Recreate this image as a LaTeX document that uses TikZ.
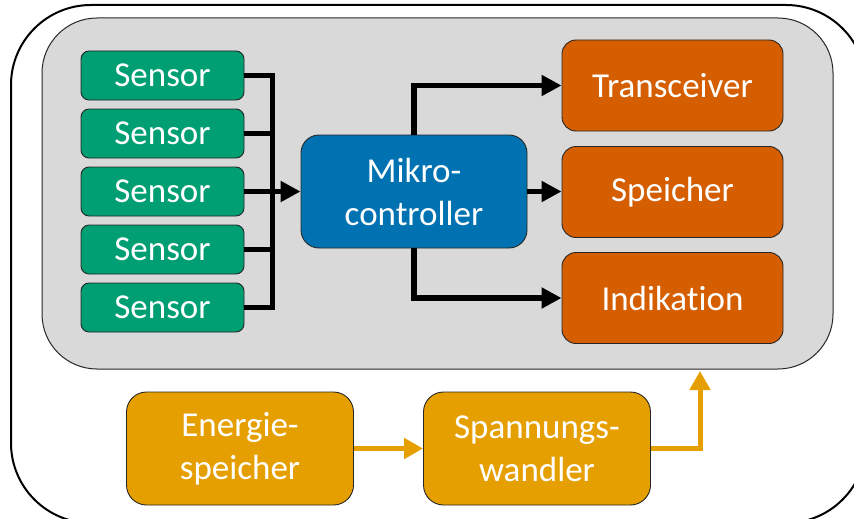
\documentclass[tikz,border=0pt]{standalone}
\usepackage{fontspec}
\setmainfont{Carlito}[Ligatures={NoCommon,NoRare}]
\usetikzlibrary{arrows.meta}
\definecolor{cgreen}{HTML}{009E73}
\definecolor{cblue}{HTML}{0072B2}
\definecolor{cverm}{HTML}{D55E00}
\definecolor{camber}{HTML}{E69F00}
\definecolor{cgray}{HTML}{D9D9D9}
\tikzset{
  box/.style={draw=black!85, line width=0.9pt, text=white, align=center,
    font=\fontsize{35}{43}\selectfont, inner sep=0pt},
  sensorbox/.style={box, fill=cgreen, minimum width=163pt, minimum height=49pt, rounded corners=8pt},
  mcbox/.style={box, fill=cblue, minimum width=226pt, minimum height=113pt, rounded corners=18pt},
  outbox/.style={box, fill=cverm, minimum width=221pt, minimum height=91pt, rounded corners=14pt},
  powbox/.style={box, fill=camber, minimum width=227pt, minimum height=113pt, rounded corners=20pt},
  bus/.style={line width=5.5pt, draw=black},
  busarrow/.style={bus, -{Triangle[length=20pt,width=20pt]}},
  powline/.style={line width=5pt, draw=camber, -{Triangle[length=19pt,width=20pt]}},
}
\begin{document}
\begin{tikzpicture}[x=1pt,y=-1pt]
\useasboundingbox (0,0) rectangle (854,519);
\clip (0,0) rectangle (854,519);
% outer frame
\draw[line width=2pt, rounded corners=80pt] (11,5) rectangle (866,523);
% grey panel
\draw[fill=cgray, line width=1pt, draw=black!85, rounded corners=55pt] (42,18) rectangle (833,369);
% sensors
\node[sensorbox] (s1) at (162.5,75.5) {Sensor};
\node[sensorbox] (s2) at (162.5,133.5) {Sensor};
\node[sensorbox] (s3) at (162.5,191.5) {Sensor};
\node[sensorbox] (s4) at (162.5,249.5) {Sensor};
\node[sensorbox] (s5) at (162.5,307.5) {Sensor};
% microcontroller
\node[mcbox] (mc) at (414,191.5) {Mikro-\\controller};
% outputs
\node[outbox] (tr) at (672.5,85.5) {Transceiver};
\node[outbox] (sp) at (672.5,192) {Speicher};
\node[outbox] (ind) at (672.5,298) {Indikation};
% power
\node[powbox] (en) at (240,448.5) {Energie-\\speicher};
\node[powbox] (sw) at (537,448.5) {Spannungs-\\wandler};
% bus
\coordinate (bx) at (272.5,0);
\draw[bus] (s1.east) -| (bx |- s5.east) -- (s5.east);
\draw[bus] (s2.east) -- (bx |- s2.east);
\draw[bus] (s4.east) -- (bx |- s4.east);
\draw[bus] (s3.east) -- (bx |- s3.east);
\draw[busarrow] (bx |- s3.east) -- (mc.west);
% outputs
\draw[busarrow] (mc.north) |- (tr.west);
\draw[busarrow] (mc.east) -- (mc.east -| sp.west);
\draw[busarrow] (mc.south) |- (ind.west);
% power lines
\coordinate (tip) at (700,371);
\draw[powline] (en.east) -- (sw.west);
\draw[powline] (sw.east) -| (tip);
\end{tikzpicture}
\end{document}
